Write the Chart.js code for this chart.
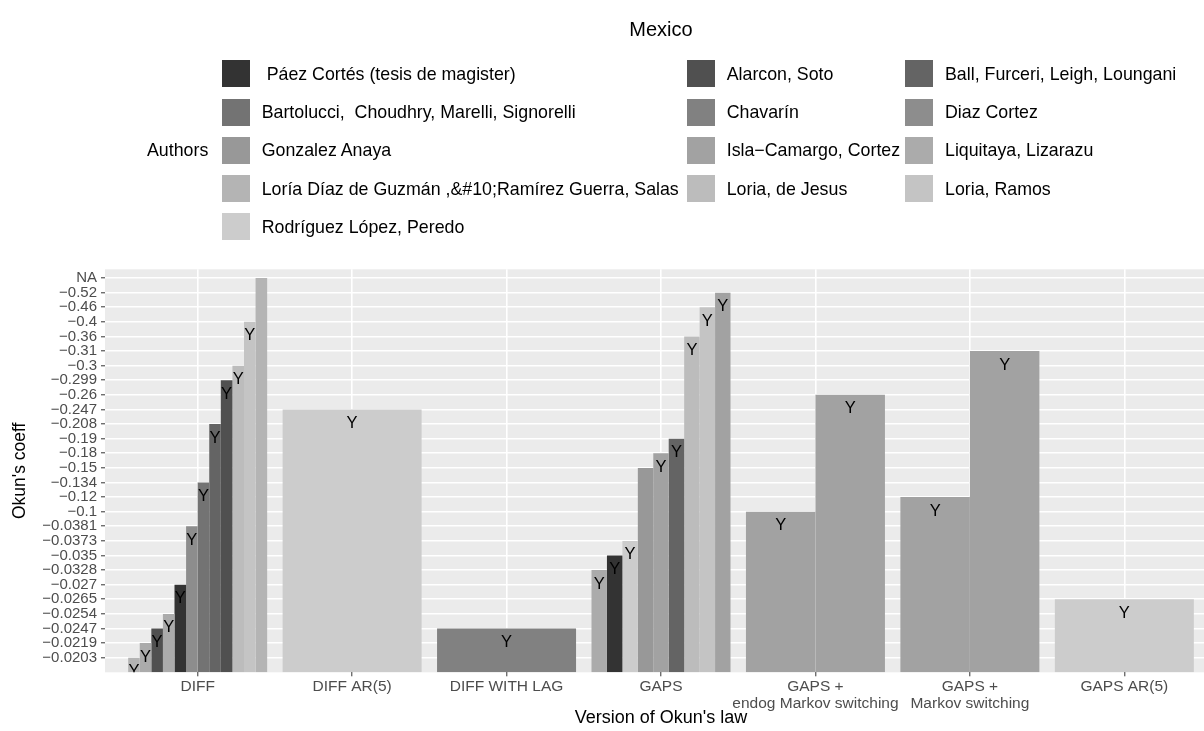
<!DOCTYPE html>
<html lang="en">
<head>
<meta charset="UTF-8">
<title>Mexico - Okun's coeff by version of Okun's law</title>
<style>
  html, body { margin: 0; padding: 0; background: #fff; overflow: hidden; }
  #wrap { position: relative; width: 1217px; height: 731px; }
  #legend { position: absolute; left: 0; top: 0; width: 1217px; height: 260px;
            font-family: "Liberation Sans", Arial, Helvetica, sans-serif; font-size: 17.8px; color: #000; }
  .key { position: absolute; width: 28px; height: 27px; }
  .lab { position: absolute; white-space: pre; line-height: 20px; }
</style>
<script src="https://cdn.jsdelivr.net/npm/chart.js@4.4.0/dist/chart.umd.min.js"></script>
</head>
<body>
<div id="wrap">
  <canvas id="okun" width="1217" height="731"></canvas>
  <div id="legend"></div>
</div>

<script>
// y axis is discrete: every coefficient is a level, bottom to top
var coeffLevels = ['−0.0203', '−0.0219', '−0.0247', '−0.0254', '−0.0265', '−0.027', '−0.0328', '−0.035',
  '−0.0373', '−0.0381', '−0.1', '−0.12', '−0.134', '−0.15', '−0.18', '−0.19', '−0.208', '−0.247',
  '−0.26', '−0.299', '−0.3', '−0.31', '−0.36', '−0.4', '−0.46', '−0.52', 'NA'];

var versions = ['DIFF', 'DIFF AR(5)', 'DIFF WITH LAG', 'GAPS', ['GAPS +', 'endog Markov switching'],
  ['GAPS +', 'Markov switching'], 'GAPS AR(5)'];

var authors = [' Páez Cortés (tesis de magister)', 'Alarcon, Soto', 'Ball, Furceri, Leigh, Loungani',
  'Bartolucci,  Choudhry, Marelli, Signorelli', 'Chavarín', 'Diaz Cortez',
  'Gonzalez Anaya', 'Isla−Camargo, Cortez', 'Liquitaya, Lizarazu',
  'Loría Díaz de Guzmán ,&#10;Ramírez Guerra, Salas', 'Loria, de Jesus', 'Loria, Ramos',
  'Rodríguez López, Peredo'];
var authorGreys = ['#333333', '#505050', '#646464', '#737373', '#818181', '#8D8D8D', '#989898',
  '#A2A2A2', '#ABABAB', '#B4B4B4', '#BCBCBC', '#C4C4C4', '#CCCCCC'];

// bars of each version, left to right (author = index into authors)
var diffCoeffs = ['−0.0203', '−0.0219', '−0.0247', '−0.0254', '−0.027', '−0.0381', '−0.134', '−0.208', '−0.299', '−0.3', '−0.4', 'NA'];
var diffAuthors = [9, 8, 1, 8, 0, 5, 3, 2, 1, 10, 11, 9];
var diffMarks = ['Y', 'Y', 'Y', 'Y', 'Y', 'Y', 'Y', 'Y', 'Y', 'Y', 'Y', ''];

var diffAr5Coeffs = ['−0.247'];
var diffAr5Authors = [12];
var diffAr5Marks = ['Y'];

var diffLagCoeffs = ['−0.0247'];
var diffLagAuthors = [4];
var diffLagMarks = ['Y'];

var gapsCoeffs = ['−0.0328', '−0.035', '−0.0373', '−0.15', '−0.18', '−0.19', '−0.36', '−0.46', '−0.52'];
var gapsAuthors = [8, 0, 12, 6, 7, 2, 10, 11, 7];
var gapsMarks = ['Y', 'Y', 'Y', '', 'Y', 'Y', 'Y', 'Y', 'Y'];

var gapsEndogCoeffs = ['−0.1', '−0.26'];
var gapsEndogAuthors = [7, 7];
var gapsEndogMarks = ['Y', 'Y'];

var gapsMarkovCoeffs = ['−0.12', '−0.31'];
var gapsMarkovAuthors = [7, 7];
var gapsMarkovMarks = ['Y', 'Y'];

var gapsAr5Coeffs = ['−0.0265'];
var gapsAr5Authors = [12];
var gapsAr5Marks = ['Y'];

var allCoeffs = [diffCoeffs, diffAr5Coeffs, diffLagCoeffs, gapsCoeffs, gapsEndogCoeffs, gapsMarkovCoeffs, gapsAr5Coeffs];
var allAuthors = [diffAuthors, diffAr5Authors, diffLagAuthors, gapsAuthors, gapsEndogAuthors, gapsMarkovAuthors, gapsAr5Authors];
var allMarks = [diffMarks, diffAr5Marks, diffLagMarks, gapsMarks, gapsEndogMarks, gapsMarkovMarks, gapsAr5Marks];

var FONT = '"Liberation Sans", Arial, Helvetica, sans-serif';

// one dataset per dodge slot; skipNull lets each version share its width among its own bars
var slotCount = Math.max.apply(null, allCoeffs.map(function (c) { return c.length; }));
var datasets = [];
for (var s = 0; s < slotCount; s++) {
  datasets.push({
    label: 'slot ' + (s + 1),
    data: allCoeffs.map(function (c) { return c[s] !== undefined ? coeffLevels.indexOf(c[s]) + 1 : null; }),
    backgroundColor: allAuthors.map(function (a) { return a[s] !== undefined ? authorGreys[a[s]] : 'rgba(0,0,0,0)'; }),
    marks: allMarks.map(function (m) { return m[s] || ''; }),
    borderWidth: 0,
    skipNull: true,
    categoryPercentage: 0.9,
    barPercentage: 1.0
  });
}

var panelBg = {
  id: 'panelBg',
  beforeDraw: function (chart) {
    var a = chart.chartArea, ctx = chart.ctx;
    ctx.save();
    ctx.fillStyle = '#EBEBEB';
    ctx.fillRect(a.left, a.top, a.right - a.left, a.bottom - a.top);
    ctx.restore();
  }
};

var barMarks = {
  id: 'barMarks',
  afterDatasetsDraw: function (chart) {
    var ctx = chart.ctx, a = chart.chartArea;
    ctx.save();
    ctx.beginPath();
    ctx.rect(a.left, a.top, a.right - a.left, a.bottom - a.top);
    ctx.clip();
    ctx.font = '16.5px ' + FONT;
    ctx.fillStyle = '#000000';
    ctx.textAlign = 'center';
    ctx.textBaseline = 'middle';
    chart.data.datasets.forEach(function (ds, di) {
      chart.getDatasetMeta(di).data.forEach(function (bar, i) {
        if (ds.marks[i] && ds.data[i] !== null) ctx.fillText(ds.marks[i], bar.x, bar.y + 14);
      });
    });
    ctx.restore();
  }
};

new Chart(document.getElementById('okun'), {
  type: 'bar',
  data: { labels: versions, datasets: datasets },
  plugins: [panelBg, barMarks],
  options: {
    responsive: false,
    animation: false,
    devicePixelRatio: 1,
    layout: { padding: 0 },
    plugins: {
      legend: { display: false },
      tooltip: { enabled: false },
      title: {
        display: true,
        text: 'Mexico',
        fullSize: false,
        color: '#000000',
        font: { family: FONT, size: 20, weight: 'normal' },
        padding: { top: 18, bottom: 227.3 }
      }
    },
    scales: {
      x: {
        type: 'category',
        offset: true,
        // ggplot pads a discrete axis by 0.6 of a category on each side
        afterBuildTicks: function (scale) {
          scale._startValue = -0.6;
          scale._valueRange = versions.length + 0.2;
        },
        afterFit: function (scale) { scale.height = 58.7; },
        ticks: { color: '#4D4D4D', font: { family: FONT, size: 15.5, lineHeight: 1.1 }, padding: 2, maxRotation: 0, autoSkip: false },
        grid: { offset: false, color: '#FFFFFF', lineWidth: 1.6, tickColor: '#333333', tickLength: 4, tickWidth: 1 },
        border: { display: false },
        title: { display: true, text: "Version of Okun's law", color: '#000000', font: { family: FONT, size: 18 }, padding: { top: 0, bottom: 2.2 } }
      },
      y: {
        type: 'linear',
        min: 0,
        max: 27.6,
        afterBuildTicks: function (scale) {
          scale.ticks = coeffLevels.map(function (_, i) { return { value: i + 1 }; });
        },
        afterFit: function (scale) { scale.width = 105; },
        ticks: {
          autoSkip: false, color: '#4D4D4D', font: { family: FONT, size: 15 }, padding: 4,
          callback: function (v) { return coeffLevels[v - 1]; }
        },
        grid: { color: '#FFFFFF', lineWidth: 1.6, tickColor: '#333333', tickLength: 4, tickWidth: 1 },
        border: { display: false },
        title: { display: true, text: "Okun's coeff", color: '#000000', font: { family: FONT, size: 17.5 }, padding: { top: 9.5 } }
      }
    }
  }
});

// legend: three columns, filled row by row like the ggplot guide
var legend = document.getElementById('legend');
var keyLeft = [221.7, 686.7, 905];
var firstCenter = 73.7, rowStep = 38.3;
var head = document.createElement('div');
head.className = 'lab';
head.textContent = 'Authors';
head.style.left = '147px';
head.style.top = (firstCenter + 2 * rowStep - 10) + 'px';
legend.appendChild(head);
authors.forEach(function (name, i) {
  var col = i % 3, row = Math.floor(i / 3);
  var cy = firstCenter + row * rowStep;
  var key = document.createElement('div');
  key.className = 'key';
  key.style.left = keyLeft[col] + 'px';
  key.style.top = (cy - 13.5) + 'px';
  key.style.background = authorGreys[i];
  legend.appendChild(key);
  var lab = document.createElement('div');
  lab.className = 'lab';
  lab.textContent = name;
  lab.style.left = (keyLeft[col] + 40) + 'px';
  lab.style.top = (cy - 10) + 'px';
  legend.appendChild(lab);
});
</script>
</body>
</html>
